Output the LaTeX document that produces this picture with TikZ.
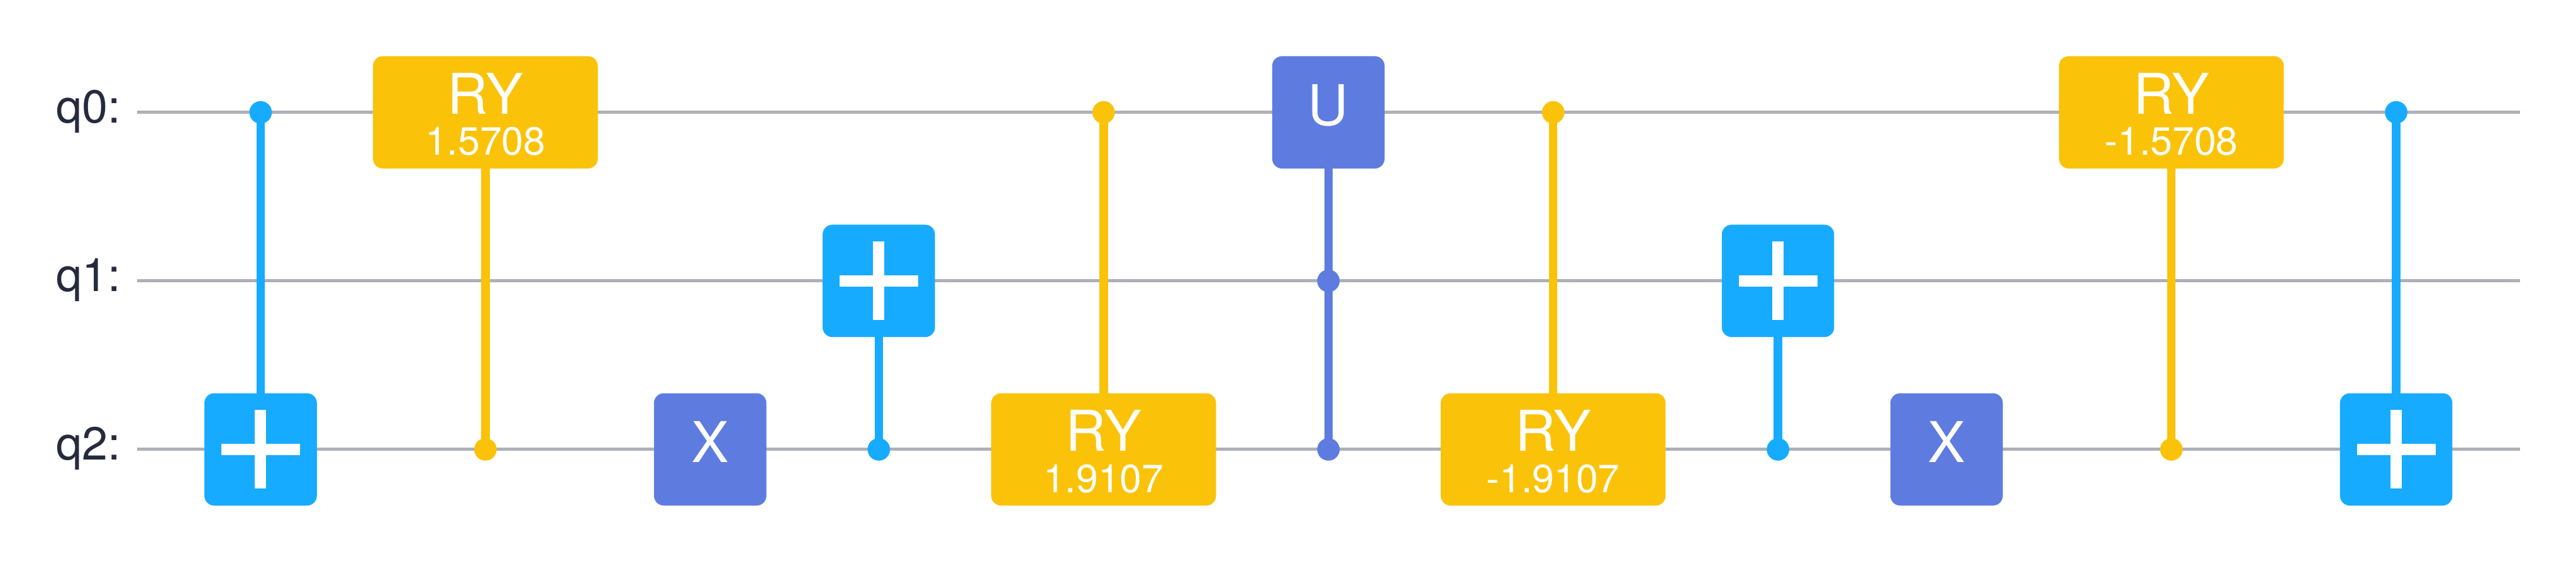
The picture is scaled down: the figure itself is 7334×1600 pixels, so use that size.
\documentclass[tikz,border=0pt]{standalone}
\usepackage{fontspec}
\setmainfont{TeX Gyre Heros}
\usetikzlibrary{backgrounds}
\definecolor{ygate}{HTML}{FAC30A}
\definecolor{bgate}{HTML}{16ABFF}
\definecolor{ugate}{HTML}{5E7CE0}
\definecolor{wirec}{HTML}{AEB0B8}
\definecolor{labelc}{HTML}{242B3D}
\tikzset{
  x=0.25pt,y=-0.25pt,
  gatebox/.style={inner sep=0pt,minimum height=80pt,rounded corners=7pt,draw=none},
  wideg/.style={gatebox,fill=ygate,minimum width=160pt},
  xbox/.style={gatebox,fill=bgate,minimum width=80pt},
  ubox/.style={gatebox,fill=ugate,minimum width=80pt},
  dotc/.style={circle,inner sep=0pt,minimum size=16pt,draw=none},
  wire/.style={draw=wirec,line width=2.2pt},
  ctrl/.style={line width=6pt},
  gname/.style={anchor=base,inner sep=0pt,text=white,font=\fontsize{40pt}{40pt}\selectfont},
  gparam/.style={anchor=base,inner sep=0pt,text=white,font=\fontsize{28pt}{28pt}\selectfont},
  qlabel/.style={anchor=base east,inner sep=0pt,text=labelc,font=\fontsize{33pt}{33pt}\selectfont},
}
\newcommand{\plusmark}[1]{%
  \fill[white] ([shift={(-112,-16)}]#1.center) rectangle ([shift={(112,16)}]#1.center);
  \fill[white] ([shift={(-16,-112)}]#1.center) rectangle ([shift={(16,112)}]#1.center);}
\begin{document}
\begin{tikzpicture}
\useasboundingbox (0,0) rectangle (7334,1600);
% wire ends
\coordinate (a0) at (390,320); \coordinate (b0) at (7174,320);
\coordinate (a1) at (390,800); \coordinate (b1) at (7174,800);
\coordinate (a2) at (390,1280); \coordinate (b2) at (7174,1280);
% labels
\node[qlabel] (l0) at (344,350) {q0:};
\node[qlabel] (l1) at (344,830) {q1:};
\node[qlabel] (l2) at (344,1310) {q2:};
\begin{scope}[xshift=0.5pt]
% gates
\node[xbox] (g1) at (740,1280) {};
\node[dotc,fill=bgate] (c1) at (740,320) {};
\node[wideg] (g2) at (1380,320) {};
\node[dotc,fill=ygate] (c2) at (1380,1280) {};
\node[ubox] (g3) at (2020,1280) {};
\node[xbox] (g4) at (2500,800) {};
\node[dotc,fill=bgate] (c4) at (2500,1280) {};
\node[wideg] (g5) at (3140,1280) {};
\node[dotc,fill=ygate] (c5) at (3140,320) {};
\node[ubox] (g6) at (3780,320) {};
\node[dotc,fill=ugate] (c6a) at (3780,800) {};
\node[dotc,fill=ugate] (c6b) at (3780,1280) {};
\node[wideg] (g7) at (4420,1280) {};
\node[dotc,fill=ygate] (c7) at (4420,320) {};
\node[xbox] (g8) at (5060,800) {};
\node[dotc,fill=bgate] (c8) at (5060,1280) {};
\node[ubox] (g9) at (5540,1280) {};
\node[wideg] (g10) at (6180,320) {};
\node[dotc,fill=ygate] (c10) at (6180,1280) {};
\node[xbox] (g11) at (6820,1280) {};
\node[dotc,fill=bgate] (c11) at (6820,320) {};
% texts
\node[gname] (t2) at (1380,325) {RY};
\node[gparam] (p2) at (1380,442) {1.5708};
\node[gname] (t3) at (2020,1317) {X};
\node[gname] (t5) at (3140,1285) {RY};
\node[gparam] (p5) at (3140,1402) {1.9107};
\node[gname] (t6) at (3780,357) {U};
\node[gname] (t7) at (4420,1285) {RY};
\node[gparam] (p7) at (4420,1402) {-1.9107};
\node[gname] (t9) at (5540,1317) {X};
\node[gname] (t10) at (6180,325) {RY};
\node[gparam] (p10) at (6180,442) {-1.5708};
\end{scope}
% plus signs
\plusmark{g1}\plusmark{g4}\plusmark{g8}\plusmark{g11}
\begin{scope}[on background layer]
\fill[white] (0,0) rectangle (7334,1600);
\draw[wire] (a0) -- (b0);
\draw[wire] (a1) -- (b1);
\draw[wire] (a2) -- (b2);
\draw[ctrl,bgate] (c1.center) -- (g1.center);
\draw[ctrl,ygate] (g2.center) -- (c2.center);
\draw[ctrl,bgate] (g4.center) -- (c4.center);
\draw[ctrl,ygate] (c5.center) -- (g5.center);
\draw[ctrl,ugate] (g6.center) -- (c6a.center);
\draw[ctrl,ugate] (c6a.center) -- (c6b.center);
\draw[ctrl,ygate] (c7.center) -- (g7.center);
\draw[ctrl,bgate] (g8.center) -- (c8.center);
\draw[ctrl,ygate] (g10.center) -- (c10.center);
\draw[ctrl,bgate] (c11.center) -- (g11.center);
\end{scope}
\end{tikzpicture}
\end{document}
